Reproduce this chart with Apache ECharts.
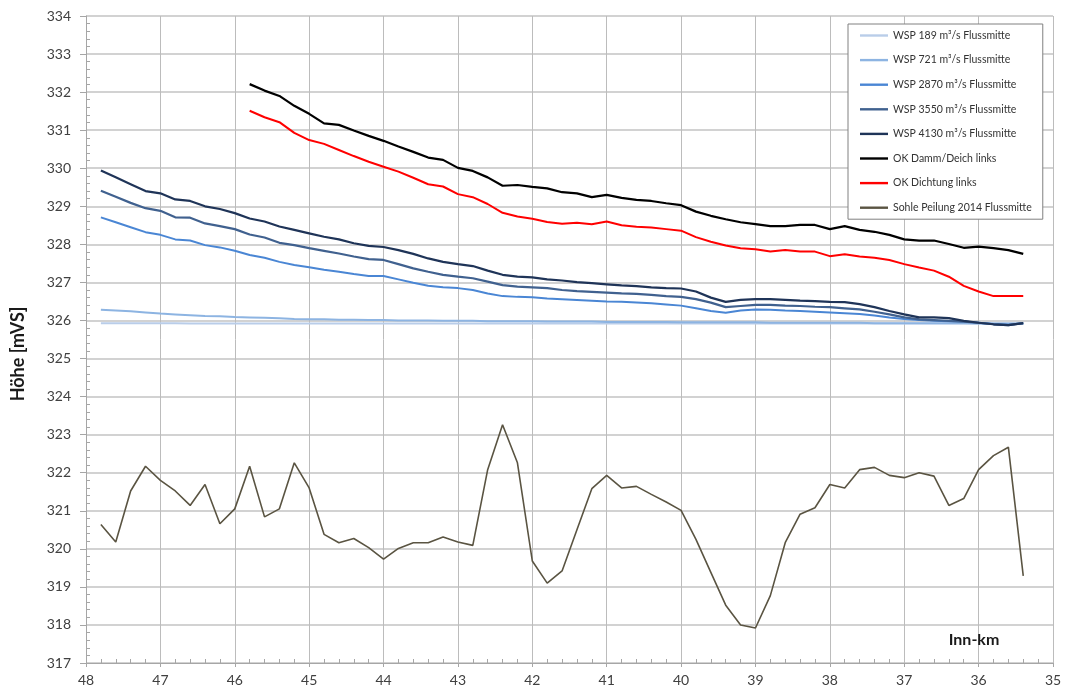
<!DOCTYPE html>
<html>
<head>
<meta charset="utf-8">
<title>Wasserspiegellagen Inn</title>
<script src="https://cdn.jsdelivr.net/npm/echarts@6/dist/echarts.min.js"></script>
<style>
  html, body { margin: 0; padding: 0; background: #ffffff; }
  #chart { width: 1068px; height: 695px; }
</style>
</head>
<body>
<div id="chart"></div>
<script>
// Stationing along the river (Inn-km), every 0.2 km
const km = [
  47.8, 47.6, 47.4, 47.2, 47.0, 46.8, 46.6, 46.4, 46.2, 46.0,
  45.8, 45.6, 45.4, 45.2, 45.0, 44.8, 44.6, 44.4, 44.2, 44.0,
  43.8, 43.6, 43.4, 43.2, 43.0, 42.8, 42.6, 42.4, 42.2, 42.0,
  41.8, 41.6, 41.4, 41.2, 41.0, 40.8, 40.6, 40.4, 40.2, 40.0,
  39.8, 39.6, 39.4, 39.2, 39.0, 38.8, 38.6, 38.4, 38.2, 38.0,
  37.8, 37.6, 37.4, 37.2, 37.0, 36.8, 36.6, 36.4, 36.2, 36.0,
  35.8, 35.6, 35.4
];
// Dike / sealing crest only exist from km 45.8 downstream
const kmDike = [
  45.8, 45.6, 45.4, 45.2, 45.0, 44.8, 44.6, 44.4, 44.2, 44.0,
  43.8, 43.6, 43.4, 43.2, 43.0, 42.8, 42.6, 42.4, 42.2, 42.0,
  41.8, 41.6, 41.4, 41.2, 41.0, 40.8, 40.6, 40.4, 40.2, 40.0,
  39.8, 39.6, 39.4, 39.2, 39.0, 38.8, 38.6, 38.4, 38.2, 38.0,
  37.8, 37.6, 37.4, 37.2, 37.0, 36.8, 36.6, 36.4, 36.2, 36.0,
  35.8, 35.6, 35.4
];

// Water levels [m above sea level]
const wsp189 = [
  325.93, 325.93, 325.93, 325.93, 325.93, 325.93, 325.92, 325.92, 325.92, 325.92,
  325.92, 325.92, 325.92, 325.92, 325.92, 325.92, 325.92, 325.92, 325.92, 325.92,
  325.92, 325.92, 325.92, 325.92, 325.92, 325.92, 325.92, 325.92, 325.92, 325.92,
  325.92, 325.92, 325.92, 325.92, 325.92, 325.92, 325.92, 325.92, 325.92, 325.92,
  325.92, 325.92, 325.92, 325.92, 325.92, 325.92, 325.92, 325.92, 325.92, 325.92,
  325.92, 325.92, 325.92, 325.92, 325.92, 325.92, 325.92, 325.92, 325.92, 325.92,
  325.92, 325.92, 325.92
];
const wsp721 = [
  326.28, 326.26, 326.24, 326.21, 326.18, 326.16, 326.14, 326.12, 326.11, 326.09,
  326.08, 326.07, 326.06, 326.04, 326.03, 326.03, 326.02, 326.02, 326.01, 326.01,
  326.00, 326.00, 326.00, 325.99, 325.99, 325.99, 325.98, 325.98, 325.98, 325.98,
  325.97, 325.97, 325.97, 325.97, 325.96, 325.96, 325.96, 325.96, 325.96, 325.95,
  325.95, 325.95, 325.95, 325.95, 325.95, 325.94, 325.94, 325.94, 325.94, 325.94,
  325.94, 325.94, 325.93, 325.93, 325.93, 325.93, 325.93, 325.93, 325.93, 325.92,
  325.92, 325.92, 325.92
];
const wsp2870 = [
  328.71, 328.58, 328.45, 328.32, 328.25, 328.13, 328.10, 327.98, 327.92, 327.83,
  327.72, 327.65, 327.54, 327.46, 327.40, 327.33, 327.28, 327.22, 327.17, 327.17,
  327.08, 326.99, 326.91, 326.87, 326.85, 326.80, 326.71, 326.64, 326.62, 326.61,
  326.58, 326.56, 326.54, 326.52, 326.50, 326.49, 326.47, 326.45, 326.42, 326.39,
  326.32, 326.25, 326.20, 326.26, 326.29, 326.28, 326.26, 326.25, 326.23, 326.21,
  326.19, 326.17, 326.13, 326.08, 326.04, 326.01, 325.99, 325.98, 325.97, 325.94,
  325.91, 325.89, 325.93
];
const wsp3550 = [
  329.41, 329.25, 329.09, 328.95, 328.88, 328.71, 328.70, 328.55, 328.48, 328.40,
  328.26, 328.18, 328.04, 327.98, 327.90, 327.83, 327.76, 327.68, 327.61, 327.59,
  327.48, 327.37, 327.28, 327.20, 327.15, 327.11, 327.02, 326.93, 326.89, 326.87,
  326.85, 326.80, 326.77, 326.75, 326.73, 326.71, 326.70, 326.67, 326.64, 326.62,
  326.56, 326.47, 326.35, 326.38, 326.41, 326.41, 326.39, 326.38, 326.36, 326.35,
  326.32, 326.29, 326.23, 326.16, 326.08, 326.03, 326.01, 325.99, 325.97, 325.94,
  325.90, 325.88, 325.93
];
const wsp4130 = [
  329.94, 329.76, 329.58, 329.40, 329.34, 329.18, 329.14, 329.00, 328.93, 328.82,
  328.68, 328.60, 328.47, 328.38, 328.29, 328.20, 328.13, 328.03, 327.96, 327.93,
  327.85, 327.75, 327.63, 327.54, 327.48, 327.43, 327.31, 327.20, 327.15, 327.13,
  327.08, 327.05, 327.01, 326.98, 326.95, 326.92, 326.90, 326.87, 326.85, 326.84,
  326.76, 326.60, 326.49, 326.54, 326.56, 326.56, 326.54, 326.52, 326.51, 326.49,
  326.48, 326.43, 326.35, 326.25, 326.16, 326.08, 326.08, 326.06, 325.99, 325.94,
  325.90, 325.88, 325.93
];
// Crest heights, left bank
const okDamm = [
  332.21, 332.04, 331.90, 331.64, 331.43, 331.18, 331.14, 330.99, 330.85, 330.72,
  330.57, 330.43, 330.28, 330.22, 330.01, 329.93, 329.76, 329.54, 329.56, 329.51,
  329.47, 329.37, 329.34, 329.24, 329.30, 329.22, 329.17, 329.14, 329.08, 329.03,
  328.86, 328.75, 328.66, 328.58, 328.53, 328.48, 328.48, 328.51, 328.51, 328.40,
  328.48, 328.38, 328.33, 328.25, 328.13, 328.10, 328.10, 328.01, 327.91, 327.94,
  327.90, 327.85, 327.75
];
const okDichtung = [
  331.51, 331.34, 331.21, 330.93, 330.74, 330.64, 330.48, 330.32, 330.17, 330.04,
  329.91, 329.75, 329.58, 329.52, 329.32, 329.24, 329.06, 328.83, 328.73, 328.67,
  328.59, 328.54, 328.57, 328.53, 328.60, 328.50, 328.46, 328.44, 328.40, 328.36,
  328.19, 328.07, 327.97, 327.90, 327.87, 327.81, 327.85, 327.81, 327.81, 327.69,
  327.74, 327.68, 327.65, 327.59, 327.48, 327.39, 327.31, 327.15, 326.91, 326.76,
  326.64, 326.64, 326.64
];
// River bed survey 2014
const sohle2014 = [
  320.64, 320.18, 321.52, 322.17, 321.80, 321.52, 321.14, 321.69, 320.66, 321.05,
  322.17, 320.84, 321.05, 322.26, 321.60, 320.38, 320.16, 320.27, 320.03, 319.73,
  320.01, 320.16, 320.16, 320.31, 320.18, 320.09, 322.08, 323.26, 322.26, 319.68,
  319.10, 319.42, 320.50, 321.58, 321.93, 321.60, 321.64, 321.43, 321.23, 321.01,
  320.25, 319.38, 318.52, 318.00, 317.92, 318.77, 320.16, 320.91, 321.08, 321.69,
  321.60, 322.08, 322.14, 321.93, 321.87, 322.00, 321.91, 321.14, 321.32, 322.08,
  322.45, 322.67, 319.29
];

const seriesNames = [
  'WSP 189 m³/s Flussmitte',
  'WSP 721 m³/s Flussmitte',
  'WSP 2870 m³/s Flussmitte',
  'WSP 3550 m³/s Flussmitte',
  'WSP 4130 m³/s Flussmitte',
  'OK Damm/Deich links',
  'OK Dichtung links',
  'Sohle Peilung 2014 Flussmitte'
];

const FONT = 'Lato, "Open Sans", sans-serif';
const AXIS_GREY = '#a6a6a6';

function pairs(xs, ys) {
  return ys.map(function (v, i) { return [xs[i], v]; });
}

function lineSeries(name, xs, ys, color, width) {
  return {
    name: name,
    type: 'line',
    xAxisIndex: 0,
    yAxisIndex: 0,
    data: pairs(xs, ys),
    symbol: 'none',
    showSymbol: false,
    smooth: false,
    lineStyle: { color: color, width: width },
    itemStyle: { color: color },
    emphasis: { disabled: true }
  };
}

const chart = echarts.init(document.getElementById('chart'), null, { renderer: 'canvas' });

chart.setOption({
  animation: false,
  backgroundColor: '#ffffff',
  textStyle: { fontFamily: FONT },
  grid: { left: 86, right: 15, top: 16, bottom: 32, containLabel: false },
  legend: {
    orient: 'vertical',
    left: 848,
    top: 24,
    padding: [6, 11, 6, 12],
    // plain short line as legend key
    icon: 'path://M0,0 L28,0 L28,2.4 L0,2.4 Z',
    symbolKeepAspect: true,
    itemWidth: 28,
    itemHeight: 14,
    itemGap: 13.6,
    backgroundColor: '#ffffff',
    borderColor: '#808080',
    borderWidth: 1,
    borderRadius: 0,
    data: seriesNames,
    textStyle: { fontFamily: FONT, fontSize: 10.5, color: '#333333' }
  },
  xAxis: [
    {
      type: 'value',
      min: 35,
      max: 48,
      interval: 1,
      inverse: true,
      position: 'bottom',
      axisLine: { show: true, onZero: false, lineStyle: { color: AXIS_GREY, width: 1 } },
      axisTick: { show: true, length: 4, lineStyle: { color: AXIS_GREY } },
      minorTick: { show: false },
      axisLabel: { fontFamily: FONT, fontSize: 14, color: '#404040', margin: 10 },
      splitLine: { show: true, lineStyle: { color: '#bcbcbc', width: 1 } }
    },
    {
      type: 'value',
      min: 35,
      max: 48,
      interval: 1,
      inverse: true,
      position: 'bottom',
      axisLine: { show: false },
      axisTick: { show: false, inside: true },
      minorTick: { show: true, splitNumber: 5, length: 4, lineStyle: { color: AXIS_GREY } },
      axisLabel: { show: false },
      splitLine: { show: false }
    }
  ],
  yAxis: [
    {
      type: 'value',
      min: 317,
      max: 334,
      interval: 1,
      position: 'left',
      axisLine: { show: true, onZero: false, lineStyle: { color: AXIS_GREY, width: 1 } },
      axisTick: { show: true, length: 6, lineStyle: { color: AXIS_GREY } },
      minorTick: { show: false },
      axisLabel: { fontFamily: FONT, fontSize: 14, color: '#404040', margin: 15 },
      splitLine: { show: true, lineStyle: { color: '#d2d2d2', width: 2 } }
    },
    {
      type: 'value',
      min: 317,
      max: 334,
      interval: 1,
      position: 'left',
      axisLine: { show: false },
      axisTick: { show: false, inside: true },
      minorTick: { show: true, splitNumber: 5, length: 4, lineStyle: { color: AXIS_GREY } },
      axisLabel: { show: false },
      splitLine: { show: false }
    }
  ],
  graphic: [
    {
      type: 'text',
      x: 18,
      y: 354,
      rotation: Math.PI / 2,
      style: {
        text: 'Höhe [mVS]',
        fontFamily: FONT,
        fontSize: 18,
        fontWeight: 'bold',
        fill: '#1a1a1a',
        align: 'center',
        verticalAlign: 'middle'
      },
      z: 10
    },
    {
      type: 'text',
      x: 974,
      y: 640,
      style: {
        text: 'Inn-km',
        fontFamily: FONT,
        fontSize: 16,
        fontWeight: 'bold',
        fill: '#1a1a1a',
        align: 'center',
        verticalAlign: 'middle'
      },
      z: 10
    }
  ],
  series: [
    lineSeries(seriesNames[0], km, wsp189, '#b9cde9', 2),
    lineSeries(seriesNames[1], km, wsp721, '#8db4e2', 2),
    lineSeries(seriesNames[2], km, wsp2870, '#4a86d4', 2),
    lineSeries(seriesNames[3], km, wsp3550, '#40618f', 2.2),
    lineSeries(seriesNames[4], km, wsp4130, '#1f3458', 2.2),
    lineSeries(seriesNames[5], kmDike, okDamm, '#000000', 2.2),
    lineSeries(seriesNames[6], kmDike, okDichtung, '#ff0000', 2),
    lineSeries(seriesNames[7], km, sohle2014, '#5a5442', 1.6)
  ]
});
</script>
</body>
</html>
